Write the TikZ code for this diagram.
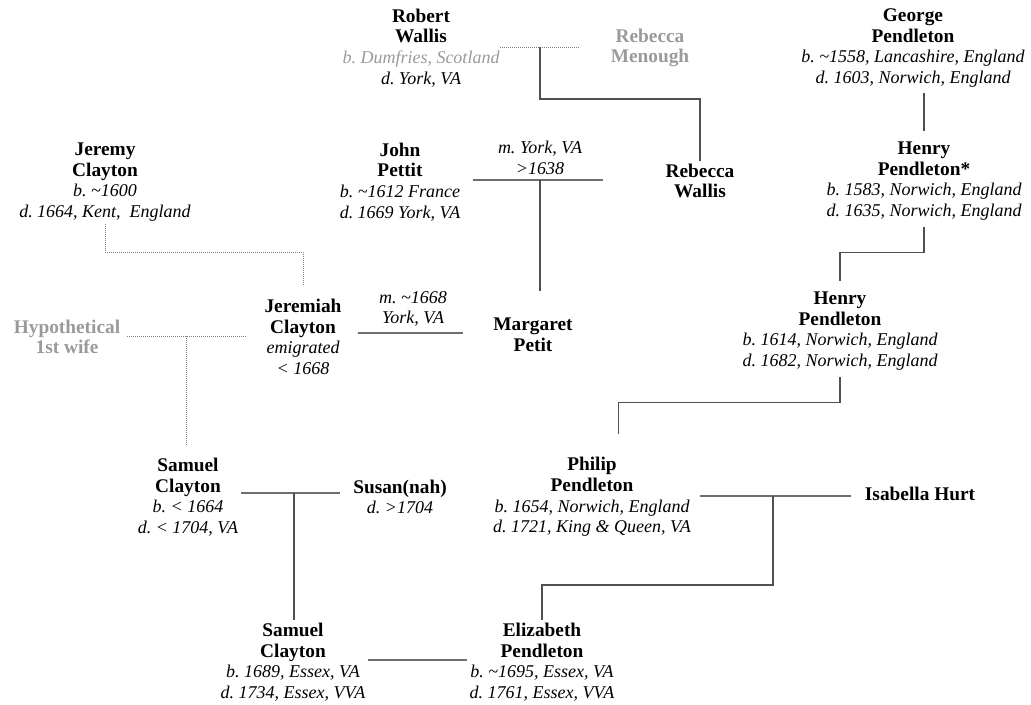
\documentclass[tikz,border=0pt]{standalone}
\usepackage{fontspec}
\setmainfont{Liberation Serif}
\usetikzlibrary{calc}

\definecolor{ghost}{HTML}{9A9A9A}
\definecolor{linegray}{HTML}{505050}
\definecolor{wedgray}{HTML}{6E6E6E}

\newcommand{\nm}[1]{\textbf{#1}}
\newcommand{\ev}[1]{{\fontsize{13.5}{15.5}\selectfont\itshape #1}}

\begin{document}
\begin{tikzpicture}[x=0.75pt,y=-0.75pt,
    person/.style={align=center, inner sep=2pt, font=\fontsize{14.5}{15.5}\selectfont\frenchspacing},
    ghost/.style={person, text=ghost},
    line/.style={draw=linegray, line width=0.8pt},
    wed/.style={draw=wedgray, line width=1.4pt},
    dotline/.style={draw=gray, line width=0.6pt, dash pattern=on 0.6pt off 0.9pt}]
  \useasboundingbox (0,0) rectangle (1031,704);

  % generation 1
  \node[person] (rw) at (421,48) {\nm{Robert}\\\nm{Wallis}\\\textcolor{ghost}{\ev{b. Dumfries, Scotland}}\\\ev{d. York, VA}};
  \node[ghost] (rm) at (650,48) {\nm{Rebecca}\\\nm{Menough}};
  \node[person] (gp) at (913,48) {\nm{George}\\\nm{Pendleton}\\\ev{b. \textasciitilde1558, Lancashire, England}\\\ev{d. 1603, Norwich, England}};

  % generation 2
  \node[person] (jc) at (105,182) {\nm{Jeremy}\\\nm{Clayton}\\\ev{b. \textasciitilde1600}\\\ev{d. 1664, Kent,\ \ England}};
  \node[person] (jp) at (400,182) {\nm{John}\\\nm{Pettit}\\\ev{b. \textasciitilde1612 France}\\\ev{d. 1669 York, VA}};
  \node[person] (rwl) at (700,181) {\nm{Rebecca}\\\nm{Wallis}};
  \node[person] (hp1) at (924,181) {\nm{Henry}\\\nm{Pendleton*}\\\ev{b. 1583, Norwich, England}\\\ev{d. 1635, Norwich, England}};
  \node[person] (m1lab) at (540,158) {\ev{m. York, VA}\\\ev{>1638}};

  % generation 3
  \node[ghost] (hw) at (67,337) {\nm{Hypothetical}\\\nm{1st wife}};
  \node[person] (jmc) at (303,337) {\nm{Jeremiah}\\\nm{Clayton}\\\ev{emigrated}\\\ev{< 1668}};
  \node[person] (mp) at (533,335) {\nm{Margaret}\\\nm{Petit}};
  \node[person] (hp2) at (840,331) {\nm{Henry}\\\nm{Pendleton}\\\ev{b. 1614, Norwich, England}\\\ev{d. 1682, Norwich, England}};
  \node[person] (m2lab) at (413,309) {\ev{m. \textasciitilde1668}\\\ev{York, VA}};

  % generation 4
  \node[person] (sc1) at (188,497) {\nm{Samuel}\\\nm{Clayton}\\\ev{b. < 1664}\\\ev{d. < 1704, VA}};
  \node[person] (su) at (400,497) {\nm{Susan(nah)}\\\ev{d. >1704}};
  \node[person] (pp) at (592,497) {\nm{Philip}\\\nm{Pendleton}\\\ev{b. 1654, Norwich, England}\\\ev{d. 1721, King \& Queen, VA}};
  \node[person] (ih) at (920,494) {\nm{Isabella Hurt}};

  % generation 5
  \node[person] (sc2) at (293,662) {\nm{Samuel}\\\nm{Clayton}\\\ev{b. 1689, Essex, VA}\\\ev{d. 1734, Essex, VVA}};
  \node[person] (ep) at (542,662) {\nm{Elizabeth}\\\nm{Pendleton}\\\ev{b. \textasciitilde1695, Essex, VA}\\\ev{d. 1761, Essex, VVA}};

  % marriages
  \coordinate (m1) at (540,47);
  \coordinate (m2) at (540,180);
  \coordinate (m3) at (186,336);
  \coordinate (m4) at (413,333);
  \coordinate (m5) at (294,493);
  \coordinate (m6) at (773,496);
  \coordinate (m7) at (419,660);

  \draw[dotline, shorten <=-2pt, shorten >=22pt] (rw.east|-m1) -- (rm.west|-m1);
  \draw[wed, shorten <=7pt, shorten >=45pt] (jp.east|-m2) -- (rwl.west|-m2);
  \draw[dotline, shorten <=3pt, shorten >=12pt] (hw.east|-m3) -- (jmc.west|-m3);
  \draw[wed, shorten <=10pt, shorten >=21pt] (jmc.east|-m4) -- (mp.west|-m4);
  \draw[wed, shorten <=0pt, shorten >=8pt] (sc1.east|-m5) -- (su.west|-m5);
  \draw[wed, shorten <=5pt, shorten >=8pt] (pp.east|-m6) -- (ih.west|-m6);
  \draw[wed] (sc2.east|-m7) -- (ep.west|-m7);

  % descent
  \draw[line] (m1) -- ++(0,52) -| (rwl.north);
  \draw[line, shorten >=18pt] (m2) -- (m2|-mp.north);
  \draw[line, shorten <=2pt, shorten >=6pt] (hp1.north|-gp.south) -- (hp1.north);
  \draw[line, shorten <=3pt, shorten >=6pt] (hp1.south) -- ++(0,29) -| (hp2.north);
  \draw[line, shorten <=3pt, shorten >=15pt] (hp2.south) -- ++(0,29) -| ([xshift=20pt]pp.north);
  \draw[dotline, shorten >=8pt] (jc.south) -- ++(0,28) -| (jmc.north);
  \draw[dotline, shorten >=8pt] (m3) -- (m3|-sc1.north);
  \draw[line] (m6) -- ++(0,89) -| (ep.north);
  \draw[line] (m5) -- (m5|-sc2.north);
\end{tikzpicture}
\end{document}
